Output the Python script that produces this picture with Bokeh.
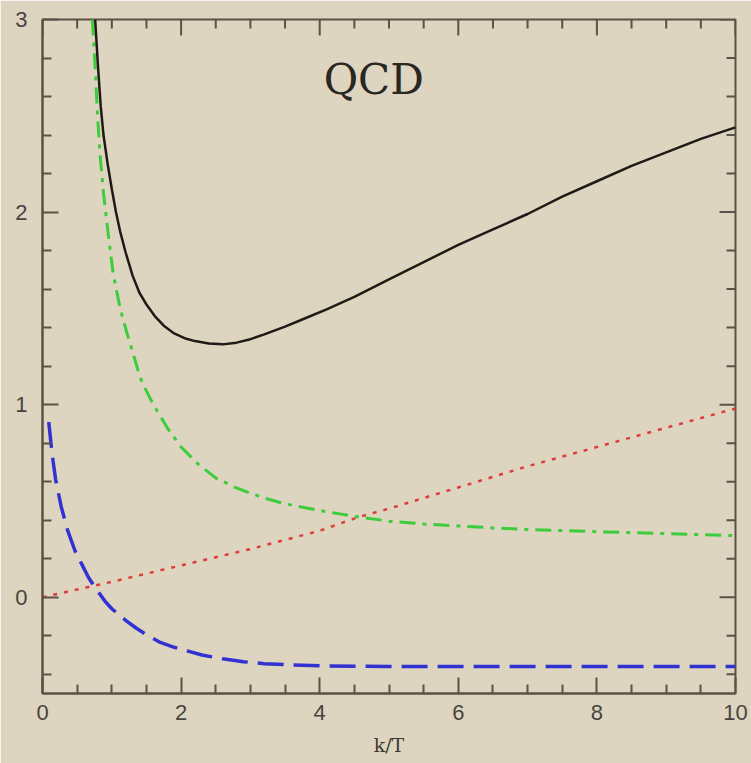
from bokeh.plotting import figure
from bokeh.models import Range1d, LinearAxis, FixedTicker, Label
from bokeh.embed import file_html
from bokeh.resources import INLINE

# ---- data ----
k_total = [0.76, 0.80, 0.84, 0.88, 0.94, 1.00, 1.06, 1.12, 1.20, 1.30, 1.40, 1.50, 1.62, 1.75, 1.90, 2.05, 2.20, 2.40, 2.60, 2.80, 3.00, 3.20, 3.50, 3.80, 4.10, 4.50, 5.0, 5.5, 6.0, 6.5, 7.0, 7.5, 8.0, 8.5, 9.0, 9.5, 10.0]
y_total = [3.00, 2.76, 2.55, 2.40, 2.25, 2.12, 2.00, 1.90, 1.79, 1.67, 1.58, 1.52, 1.46, 1.41, 1.37, 1.345, 1.33, 1.317, 1.313, 1.322, 1.34, 1.365, 1.405, 1.45, 1.495, 1.56, 1.65, 1.74, 1.83, 1.91, 1.99, 2.08, 2.16, 2.24, 2.31, 2.38, 2.44]

k_green = [0.72, 0.76, 0.79, 0.83, 0.88, 0.95, 1.02, 1.12, 1.22, 1.32, 1.41, 1.50, 1.60, 1.70, 1.80, 1.90, 2.0, 2.25, 2.5, 2.75, 3.0, 3.25, 3.5, 4.0, 4.5, 5.0, 5.5, 6.0, 6.5, 7.0, 8.0, 9.0, 10.0]
y_green = [3.00, 2.75, 2.53, 2.30, 2.10, 1.88, 1.68, 1.50, 1.37, 1.25, 1.14, 1.07, 1.00, 0.94, 0.88, 0.83, 0.78, 0.69, 0.62, 0.575, 0.54, 0.51, 0.485, 0.45, 0.42, 0.395, 0.38, 0.37, 0.36, 0.352, 0.34, 0.33, 0.32]

k_red = [0.0, 1.0, 2.0, 3.0, 4.0, 4.55, 5.0, 6.0, 7.0, 8.0, 9.0, 10.0]
y_red = [0.0, 0.08, 0.165, 0.25, 0.345, 0.415, 0.46, 0.57, 0.68, 0.78, 0.88, 0.98]

k_blue = [0.09, 0.14, 0.19, 0.27, 0.36, 0.47, 0.59, 0.66, 0.74, 0.82, 0.90, 1.00, 1.10, 1.20, 1.35, 1.50, 1.70, 1.90, 2.10, 2.30, 2.60, 2.90, 3.20, 3.60, 4.0, 4.5, 5.0, 6.0, 7.0, 8.0, 9.0, 10.0]
y_blue = [0.91, 0.74, 0.61, 0.47, 0.35, 0.24, 0.155, 0.105, 0.06, 0.02, -0.02, -0.06, -0.09, -0.12, -0.16, -0.195, -0.235, -0.26, -0.28, -0.30, -0.32, -0.335, -0.345, -0.352, -0.356, -0.358, -0.36, -0.36, -0.36, -0.36, -0.36, -0.36]

x_major = [0, 2, 4, 6, 8, 10]
x_minor = [0.5, 1.0, 1.5, 2.5, 3.0, 3.5, 4.5, 5.0, 5.5, 6.5, 7.0, 7.5, 8.5, 9.0, 9.5]
y_major = [0, 1, 2, 3]
y_minor = [-0.4, -0.2, 0.2, 0.4, 0.6, 0.8, 1.2, 1.4, 1.6, 1.8, 2.2, 2.4, 2.6, 2.8]

title_text = "QCD"
x_label = "k/T"

X0, X1, Y0, Y1 = 0, 10, -0.5, 3
BG = "#ded5c1"
AX = "#5a5246"

W, H = 751, 763
BL, BR, BT, BB = 42, 16, 19, 70
p = figure(width=W, height=H, output_backend="svg", toolbar_location=None,
           x_range=Range1d(X0, X1), y_range=Range1d(Y0, Y1),
           x_axis_location=None, y_axis_location=None,
           min_border_left=BL, min_border_right=BR, min_border_top=BT, min_border_bottom=BB)
p.background_fill_color = BG
p.border_fill_color = BG
p.outline_line_color = AX
p.outline_line_width = 2
p.grid.visible = False

MAJ, MIN = 16, 9


def style_axis(ax):
    ax.axis_line_color = AX
    ax.axis_line_width = 2
    ax.major_tick_line_color = AX
    ax.minor_tick_line_color = AX
    ax.major_tick_line_width = 2
    ax.minor_tick_line_width = 2
    ax.major_tick_in = MAJ
    ax.major_tick_out = 0
    ax.minor_tick_in = MIN
    ax.minor_tick_out = 0
    ax.major_label_text_font = "Liberation Sans"
    ax.major_label_text_font_size = "22px"
    ax.major_label_text_color = "#48443e"


xb = LinearAxis(ticker=FixedTicker(ticks=x_major, minor_ticks=x_minor))
style_axis(xb)
xb.major_label_standoff = 11
xb.axis_label = x_label
xb.axis_label_text_font = "DejaVu Serif"
xb.axis_label_text_font_style = "normal"
xb.axis_label_text_font_size = "19px"
xb.axis_label_text_color = "#3c3830"
xb.axis_label_standoff = 11
p.add_layout(xb, "below")

yl = LinearAxis(ticker=FixedTicker(ticks=y_major, minor_ticks=y_minor))
style_axis(yl)
yl.major_label_standoff = 15
yl.major_label_orientation = "horizontal"
p.add_layout(yl, "left")

# mirrored inward ticks on the top and right frame edges
fw, fh = W - BL - BR, H - BT - BB
dy_maj, dy_min = MAJ * (Y1 - Y0) / fh, MIN * (Y1 - Y0) / fh
dx_maj, dx_min = MAJ * (X1 - X0) / fw, MIN * (X1 - X0) / fw
p.segment(x0=x_major, y0=[Y1] * len(x_major), x1=x_major, y1=[Y1 - dy_maj] * len(x_major),
          line_color=AX, line_width=2)
p.segment(x0=x_minor, y0=[Y1] * len(x_minor), x1=x_minor, y1=[Y1 - dy_min] * len(x_minor),
          line_color=AX, line_width=2)
p.segment(x0=[X1] * len(y_major), y0=y_major, x1=[X1 - dx_maj] * len(y_major), y1=y_major,
          line_color=AX, line_width=2)
p.segment(x0=[X1] * len(y_minor), y0=y_minor, x1=[X1 - dx_min] * len(y_minor), y1=y_minor,
          line_color=AX, line_width=2)

p.line(k_red, y_red, line_color="#e03c3c", line_width=2.5, line_dash="4 7")
p.line(k_blue, y_blue, line_color="#3232d2", line_width=3.5, line_dash="26 10")
p.line(k_green, y_green, line_color="#3ccc3c", line_width=3, line_dash="16 7 4 7")
p.line(k_total, y_total, line_color="#1e1a16", line_width=2.5)

p.add_layout(Label(x=4.78, y=2.69, text=title_text, text_align="center",
                   text_baseline="alphabetic", text_font="DejaVu Serif",
                   text_font_size="42px", text_color="#2a2620"))

open("out.html", "w").write(file_html(p, INLINE))
